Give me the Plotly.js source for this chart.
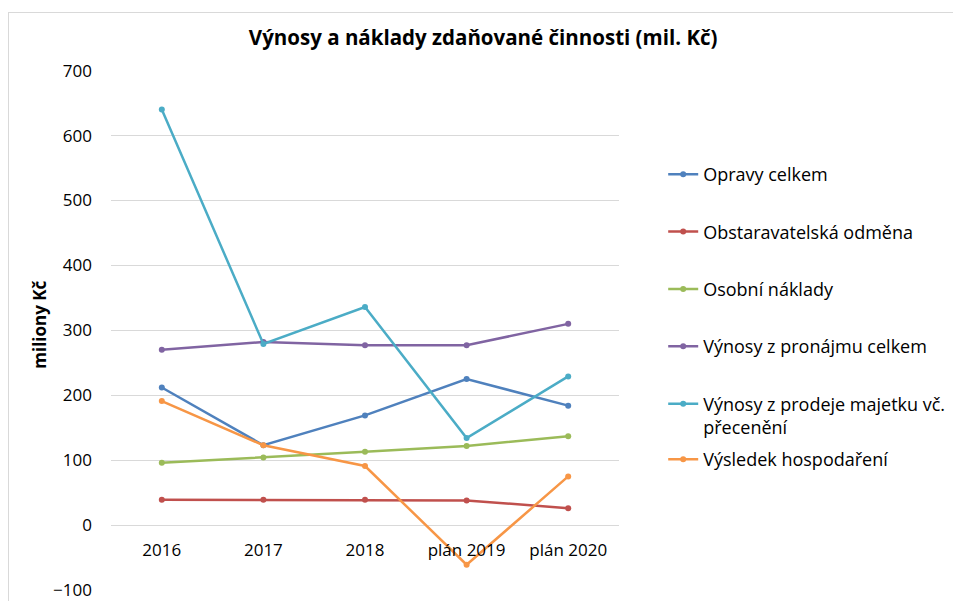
<!DOCTYPE html>
<html>
<head>
<meta charset="utf-8">
<script src="https://cdn.plot.ly/plotly-3.0.1.min.js"></script>
<style>
  html, body { margin: 0; padding: 0; background: #fff; overflow: hidden; }
  #frame { position: absolute; left: 8px; top: 12px; width: 1000px; height: 700px; border: 1px solid #D9D9D9; box-sizing: border-box; }
  #chart { position: absolute; left: 0; top: 0; width: 953px; height: 601px; }
</style>
</head>
<body>
<div id="frame"></div>
<div id="chart"></div>
<script>
const categories = ["2016", "2017", "2018", "plán 2019", "plán 2020"];
const opravyCelkem = [212, 123, 169, 225, 184];
const obstaravatelskaOdmena = [39, 39, 39, 38, 26];
const osobniNaklady = [96, 104, 113, 122, 137];
const vynosyPronajem = [270, 282, 277, 277, 310];
const vynosyProdej = [640, 279, 336, 134, 229];
const vysledekHospodareni = [191, 123, 91, -61, 75];

const seriesNames = [
  "Opravy celkem",
  "Obstaravatelská odměna",
  "Osobní náklady",
  "Výnosy z pronájmu celkem",
  "Výnosy z prodeje majetku vč.<br>přecenění",
  "Výsledek hospodaření"
];
const seriesValues = [opravyCelkem, obstaravatelskaOdmena, osobniNaklady, vynosyPronajem, vynosyProdej, vysledekHospodareni];
const seriesColors = ["#4F81BD", "#C0504D", "#9BBB59", "#8064A2", "#4BACC6", "#F79646"];

const FONT = "'Open Sans', 'DejaVu Sans', sans-serif";

const traces = seriesValues.map((vals, i) => ({
  type: "scatter",
  mode: "lines+markers",
  x: categories,
  y: vals,
  name: seriesNames[i],
  legendgroup: "g" + i,
  legend: i === 5 ? "legend2" : "legend",
  line: { color: seriesColors[i], width: 2.5 },
  marker: { color: seriesColors[i], size: 6 },
  hoverinfo: "x+y+name"
}));

const layout = {
  width: 953,
  height: 601,
  paper_bgcolor: "rgba(0,0,0,0)",
  plot_bgcolor: "rgba(0,0,0,0)",
  margin: { l: 111, r: 334, t: 70, b: 10, autoexpand: false },
  font: { family: FONT, size: 17, color: "#404040" },
  title: {
    text: "<b>Výnosy a náklady zdaňované činnosti (mil. Kč)</b>",
    font: { family: FONT, size: 20.5, color: "#000000" },
    xref: "container", x: 0.507, xanchor: "center",
    yref: "container", y: 0.937, yanchor: "middle"
  },
  xaxis: {
    type: "category",
    range: [-0.5, 4.5],
    anchor: "free",
    position: 0.1265,
    showgrid: false,
    showline: false,
    zeroline: false,
    ticks: "",
    ticklabelstandoff: 13,
    tickfont: { family: FONT, size: 17, color: "#000000" },
    automargin: false,
    fixedrange: true
  },
  yaxis: {
    range: [-101.5, 701],
    dtick: 100,
    tick0: 0,
    showgrid: true,
    gridcolor: "#D9D9D9",
    gridwidth: 1,
    zeroline: false,
    showline: false,
    ticks: "",
    ticklabelstandoff: 18,
    ticklabeloverflow: "allow",
    tickfont: { family: FONT, size: 17, color: "#000000" },
    automargin: false,
    fixedrange: true
  },
  annotations: [{
    text: "<b>miliony Kč</b>",
    textangle: -90,
    xref: "paper", x: -0.1398, xanchor: "center",
    yref: "paper", y: 0.511, yanchor: "middle",
    showarrow: false,
    font: { family: FONT, size: 17, color: "#000000" }
  }],
  legend: {
    x: 1.087, xanchor: "left",
    y: 0.835, yanchor: "top",
    bgcolor: "rgba(0,0,0,0)",
    font: { family: FONT, size: 18, color: "#000000" },
    tracegroupgap: 31,
    itemwidth: 30,
    valign: "top"
  },
  legend2: {
    x: 1.087, xanchor: "left",
    y: 0.288, yanchor: "top",
    bgcolor: "rgba(0,0,0,0)",
    font: { family: FONT, size: 18, color: "#000000" },
    itemwidth: 30
  },
  showlegend: true
};

Plotly.newPlot("chart", traces, layout, { displayModeBar: false, staticPlot: false });
</script>
</body>
</html>
